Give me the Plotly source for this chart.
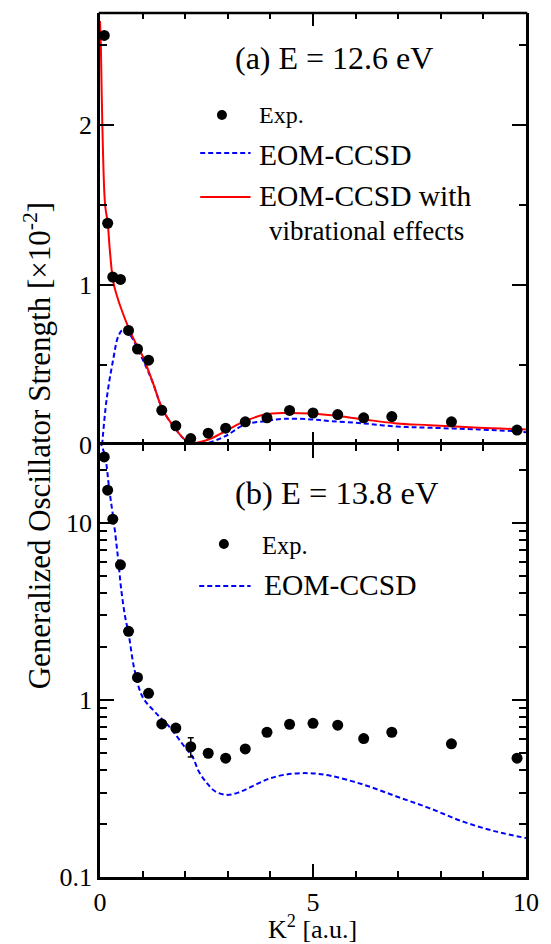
import plotly.graph_objects as go
from plotly.subplots import make_subplots

# ---------------- data ----------------
k2_exp = [0.10, 0.18, 0.30, 0.48, 0.67, 0.88, 1.14, 1.45, 1.78, 2.13, 2.54,
          2.95, 3.41, 3.92, 4.45, 5.00, 5.58, 6.19, 6.85, 8.25, 9.79]
gos_a_exp = [2.56, 1.386, 1.05, 1.035, 0.716, 0.60, 0.53, 0.217, 0.12, 0.04, 0.074,
             0.105, 0.145, 0.17, 0.216, 0.20, 0.19, 0.17, 0.178, 0.145, 0.093]
gos_a_err = [None] * 15 + [0.02] + [None] * 5
gos_b_exp = [23.6, 15.3, 10.5, 5.8, 2.44, 1.34, 1.09, 0.732, 0.694, 0.544, 0.50,
             0.469, 0.529, 0.657, 0.729, 0.738, 0.72, 0.605, 0.657, 0.565, 0.469]
gos_b_err = [None] * 9 + [0.068] + [None] * 11

k2_vib = [0.0, 0.02, 0.055, 0.12, 0.18, 0.23, 0.31, 0.40, 0.50, 0.67, 0.85, 1.0,
          1.24, 1.47, 1.78, 2.01, 2.2, 2.55, 2.94, 3.4, 3.87, 4.33, 4.95, 5.44,
          6.19, 6.96, 7.73, 8.89, 10.0]
gos_a_vib = [2.65, 2.5, 2.0, 1.5, 1.39, 1.22, 1.02, 0.93, 0.85, 0.733, 0.63, 0.556,
             0.39, 0.222, 0.097, 0.03, 0.012, 0.034, 0.086, 0.149, 0.19, 0.20, 0.197,
             0.186, 0.16, 0.135, 0.124, 0.108, 0.097]

k2_eom_a = [0.05, 0.155, 0.31, 0.43, 0.54, 0.70, 1.0, 1.24, 1.47, 1.78, 2.01, 2.3,
            2.55, 2.94, 3.4, 3.87, 4.33, 4.95, 5.44, 6.19, 6.96, 7.73, 8.89, 9.67, 10.0]
gos_a_eom = [0.0, 0.285, 0.535, 0.68, 0.72, 0.69, 0.535, 0.39, 0.222, 0.097, 0.03, 0.0,
             0.014, 0.055, 0.128, 0.149, 0.164, 0.16, 0.149, 0.135, 0.115, 0.108,
             0.097, 0.087, 0.08]

k2_eom_b = [0.0, 0.12, 0.22, 0.32, 0.42, 0.50, 0.59, 0.67, 0.81, 1.0, 1.32, 1.62,
            2.01, 2.17, 2.32, 2.51, 2.71, 2.98, 3.25, 3.56, 3.94, 4.33, 4.87, 5.41,
            6.19, 6.96, 7.73, 8.51, 9.28, 10.0]
gos_b_eom = [29, 23.6, 15.3, 10.3, 6.43, 4.17, 2.95, 2.38, 1.48, 1.04, 0.84, 0.71,
             0.534, 0.479, 0.394, 0.339, 0.304, 0.291, 0.30, 0.324, 0.357, 0.378,
             0.386, 0.373, 0.332, 0.285, 0.245, 0.206, 0.181, 0.166]

x_ticks = [0, 5, 10]
ya_ticks = [0, 1, 2]
yb_ticks = [0.1, 1, 10]
yb_minor = [m * d for d in (0.1, 1, 10) for m in range(2, 10)]

FONT = "Liberation Serif, Times New Roman, serif"
BLUE = "#0000ff"
RED = "#ff0000"
LW = 2.5

fig = make_subplots(rows=2, cols=1, shared_xaxes=True, vertical_spacing=0)

# top panel
fig.add_trace(go.Scatter(x=k2_eom_a, y=gos_a_eom, mode="lines", line_shape="spline",
                         line=dict(color=BLUE, width=2, dash="5px,3px")), row=1, col=1)
fig.add_trace(go.Scatter(x=k2_vib, y=gos_a_vib, mode="lines", line_shape="spline",
                         line=dict(color=RED, width=2)), row=1, col=1)
fig.add_trace(go.Scatter(x=k2_exp, y=gos_a_exp, mode="markers",
                         marker=dict(color="black", size=11),
                         error_y=dict(type="data", array=gos_a_err, color="black",
                                      thickness=1.5, width=3)), row=1, col=1)
# bottom panel
fig.add_trace(go.Scatter(x=k2_eom_b, y=gos_b_eom, mode="lines", line_shape="spline",
                         line=dict(color=BLUE, width=2, dash="5px,3px")), row=2, col=1)
fig.add_trace(go.Scatter(x=k2_exp, y=gos_b_exp, mode="markers",
                         marker=dict(color="black", size=11),
                         error_y=dict(type="data", array=gos_b_err, color="black",
                                      thickness=1.5, width=3)), row=2, col=1)

axis_common = dict(showline=True, linecolor="black", linewidth=LW, mirror="ticks",
                   ticks="inside", tickcolor="black", tickwidth=2, showgrid=False,
                   zeroline=False, tickfont=dict(family=FONT, size=26, color="black"))

fig.update_xaxes(range=[0, 10], tickvals=x_ticks, ticklen=13,
                 minor=dict(dtick=1, ticks="inside", ticklen=6, tickwidth=1.5,
                            tickcolor="black", showgrid=False),
                 **axis_common)
# top panel x-axis: keep ticks on both edges, but avoid doubling the shared line
fig.update_xaxes(showticklabels=False, showline=False, row=1, col=1)
fig.update_yaxes(range=[0, 2.7], tickvals=ya_ticks, ticklen=14,
                 minor=dict(dtick=0.5, ticks="inside", ticklen=7, tickwidth=1.5,
                            tickcolor="black", showgrid=False),
                 row=1, col=1, **axis_common)
fig.update_yaxes(type="log", range=[-1, 1.44], tickvals=yb_ticks,
                 ticktext=["0.1", "1", "10"], ticklen=14,
                 minor=dict(tickvals=yb_minor, ticks="inside", ticklen=7, tickwidth=1.5,
                            tickcolor="black", showgrid=False),
                 row=2, col=1, **axis_common)

# top border of the upper panel
fig.add_shape(type="line", xref="paper", yref="paper", x0=-0.003, x1=1.003,
              y0=1, y1=1, line=dict(color="black", width=LW))


def px(xp):
    return (xp - 99.5) / 431.5


def py(yp):
    return (877 - yp) / 864


def text(s, x, y, size, anchor="left", **kw):
    fig.add_annotation(text=s, x=px(x), y=py(y), xref="paper", yref="paper",
                       xanchor=anchor, yanchor="middle", showarrow=False,
                       font=dict(family=FONT, size=size, color="black"), **kw)


def dot(x, y, d=10):
    fig.add_shape(type="circle", xref="paper", yref="paper", xsizemode="pixel",
                  ysizemode="pixel", xanchor=px(x), yanchor=py(y),
                  x0=-d / 2, x1=d / 2, y0=-d / 2, y1=d / 2,
                  fillcolor="black", line=dict(width=0))


def seg(x0, x1, y, color, dash="solid"):
    fig.add_shape(type="line", xref="paper", yref="paper", x0=px(x0), x1=px(x1),
                  y0=py(y), y1=py(y), line=dict(color=color, width=2, dash=dash))


# top legend
text("(a) E = 12.6 eV", 337, 58, 32, anchor="center")
dot(223, 115)
text("Exp.", 259, 115, 24)
seg(201, 252, 153, BLUE, "5px,3px")
text("EOM-CCSD", 259, 155, 29.5)
seg(201, 252, 197, RED)
text("EOM-CCSD with", 259, 196, 29.5)
text("vibrational effects", 269, 231, 27)

# bottom legend
text("(b) E = 13.8 eV", 340, 493, 32.5, anchor="center")
dot(225, 544)
text("Exp.", 262, 545, 24.5)
seg(200, 252, 586, BLUE, "5px,3px")
text("EOM-CCSD", 264, 585, 29.5)

# axis titles
text("Generalized Oscillator Strength [×10<sup>-2</sup>]", 36, 445, 31,
     anchor="center", textangle=-90)
text("K<sup>2</sup> [a.u.]", 315, 927, 26, anchor="center")

fig.update_layout(width=551, height=944, showlegend=False,
                  margin=dict(l=99.5, r=20, t=13, b=67),
                  plot_bgcolor="white", paper_bgcolor="white")

fig.write_html("out.html")
